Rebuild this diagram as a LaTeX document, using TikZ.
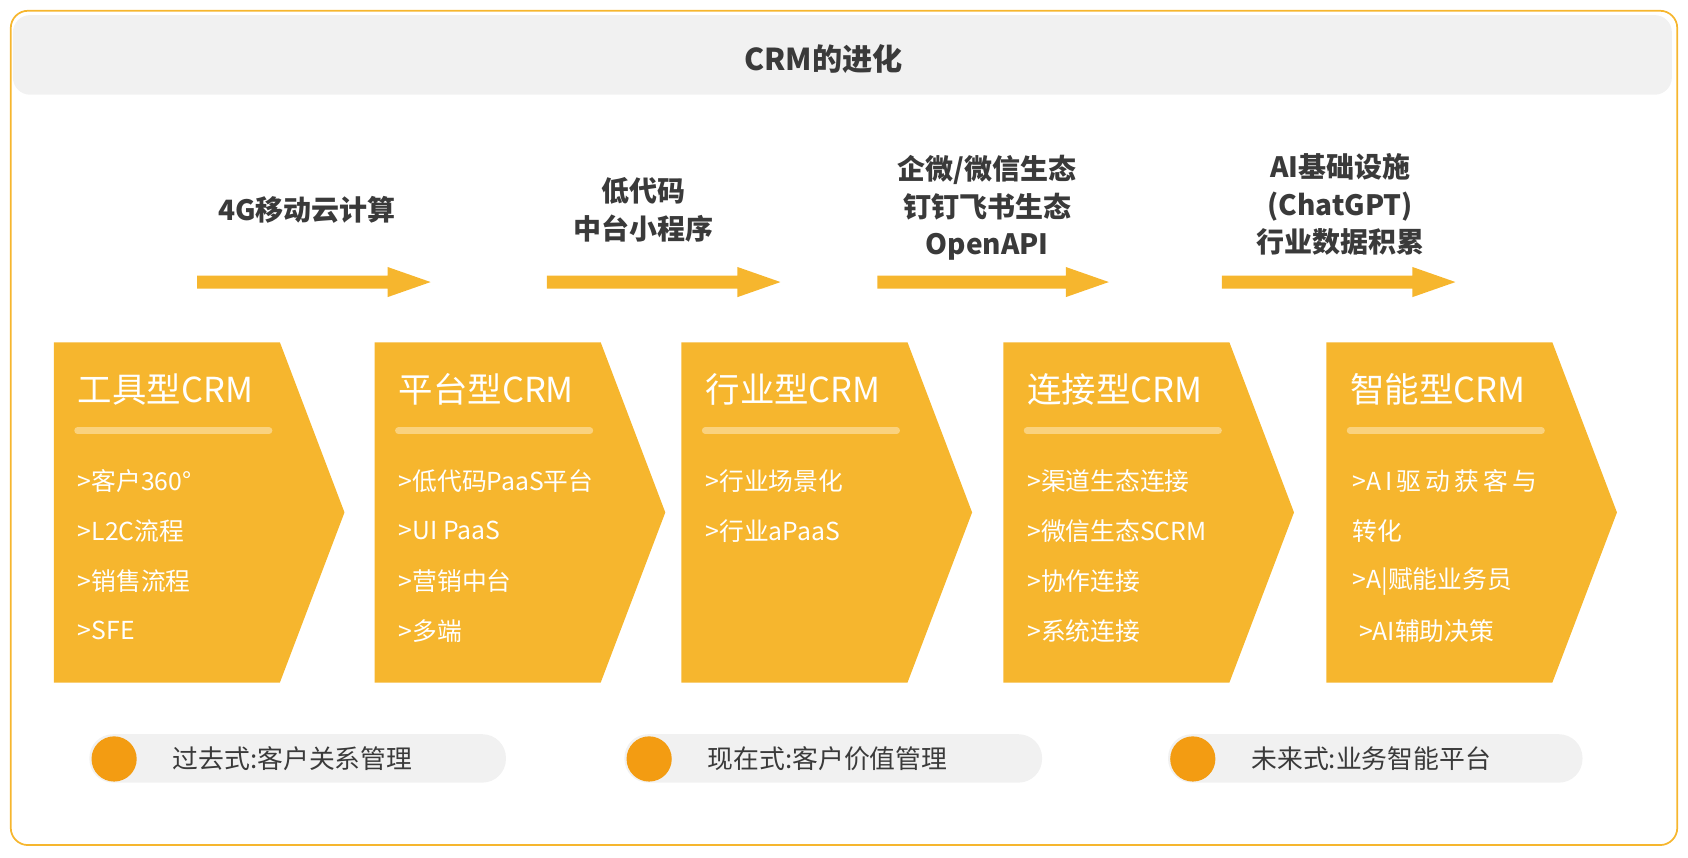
\documentclass[tikz,border=0pt]{standalone}
\usepackage{fontspec}
\setmainfont{Noto Sans CJK SC}
\begin{document}
\definecolor{org}{HTML}{F6B62E}
\definecolor{dorg}{HTML}{F39C12}
\definecolor{lorg}{HTML}{FAD27E}
\definecolor{gbg}{HTML}{F1F1F1}
\definecolor{txt}{HTML}{3A3A3A}
\begin{tikzpicture}[x=0.5pt,y=-0.5pt,
 pent/.style={fill=org,draw=none},
 ptitle/.style={anchor=west,text=white,font=\fontsize{16}{18}\selectfont,inner sep=0},
 item/.style={anchor=west,text=white,font=\fontsize{11.5}{14}\selectfont,inner sep=0},
 lab/.style={align=center,text=txt,font=\fontsize{13}{17.5}\selectfont\bfseries,inner sep=0},
 pill/.style={fill=gbg,draw=none,rounded corners=11pt},
 dot/.style={circle,fill=dorg,minimum size=21pt,inner sep=0},
 ptxt/.style={anchor=west,text=txt,font=\fontsize{12}{14}\selectfont,inner sep=0}]
\useasboundingbox (0,0) rectangle (1568,797);
\draw[org,line width=0.8pt,rounded corners=8pt] (10,10) rectangle (1558,785);
\fill[gbg,rounded corners=8pt] (12,14) rectangle (1553,88);
\node[text=txt,font=\fontsize{14}{16}\selectfont\bfseries] (title) at (765,55) {CRM的进化};
% arrows
\foreach \a/\b [count=\i] in {183/400,508/725,815/1030,1135/1352}{
 \fill[org] (\a,256) -- (\b-40,256) -- (\b-40,248) -- (\b,262) -- (\b-40,276) -- (\b-40,268) -- (\a,268) -- cycle;}
\node[lab] (l1) at (285,195) {4G移动云计算};
\node[lab] (l2) at (598,195) {低代码\\中台小程序};
\node[lab] (l3) at (917,193) {企微/微信生态\\钉钉飞书生态\\OpenAPI};
\node[lab] (l4) at (1245,190) {AI基础设施\\(ChatGPT)\\行业数据积累};
% pentagons
\foreach \x in {50,348,633,932,1232}{
 \fill[org] (\x,318) -- (\x+210,318) -- (\x+270,476) -- (\x+210,634) -- (\x,634) -- cycle;
 \draw[lorg,line width=3pt,line cap=round] (\x+22,400) -- (\x+200,400);}
\node[ptitle] (t1) at (72,362) {工具型CRM};
\node[ptitle] (t2) at (370,362) {平台型CRM};
\node[ptitle] (t3) at (655,362) {行业型CRM};
\node[ptitle] (t4) at (954,362) {连接型CRM};
\node[ptitle] (t5) at (1254,362) {智能型CRM};
\node[item] (a1) at (72,447) {>客户360°};
\node[item] (a2) at (72,493) {>L2C流程};
\node[item] (a3) at (72,540) {>销售流程};
\node[item] (a4) at (72,586) {>SFE};
\node[item] (b1) at (370,447) {>低代码PaaS平台};
\node[item] (b2) at (370,493) {>UI PaaS};
\node[item] (b3) at (370,540) {>营销中台};
\node[item] (b4) at (370,586) {>多端};
\node[item] (c1) at (655,447) {>行业场景化};
\node[item] (c2) at (655,493) {>行业aPaaS};
\node[item] (d1) at (954,447) {>渠道生态连接};
\node[item] (d2) at (954,493) {>微信生态SCRM};
\node[item] (d3) at (954,540) {>协作连接};
\node[item] (d4) at (954,586) {>系统连接};
\node[item] (e1) at (1256,447) {>A\,I\,驱\,动\,获\,客\,与};
\node[item] (e2) at (1256,493) {转化};
\node[item] (e3) at (1256,540) {>A|赋能业务员};
\node[item] (e4) at (1262,586) {>AI辅助决策};
% pills
\foreach \a/\b in {83/470,580/968,1085/1470}{
 \fill[gbg,rounded corners=11pt] (\a,682) rectangle (\b,727);}
\node[dot] (o1) at (106,705) {};
\node[dot] (o2) at (603,705) {};
\node[dot] (o3) at (1108,705) {};
\node[ptxt] (p1) at (160,705) {过去式:客户关系管理};
\node[ptxt] (p2) at (657,705) {现在式:客户价值管理};
\node[ptxt] (p3) at (1162,705) {未来式:业务智能平台};
\end{tikzpicture}
\end{document}
